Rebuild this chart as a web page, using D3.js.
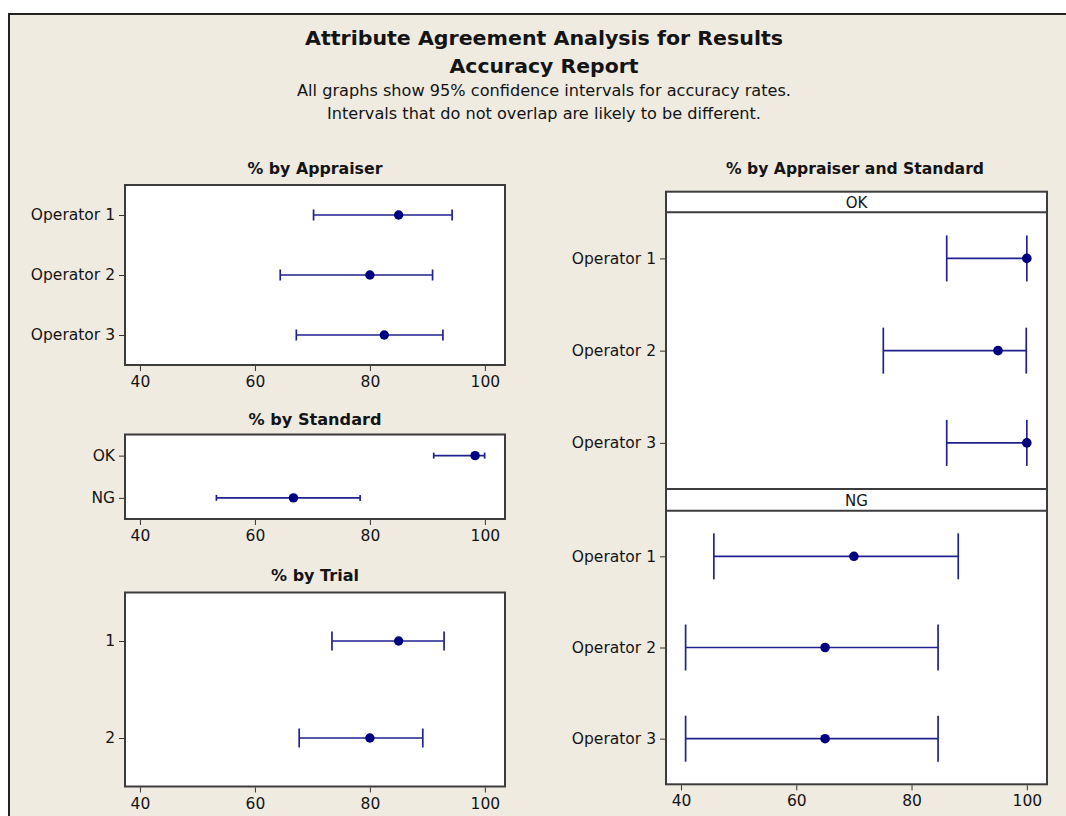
<!DOCTYPE html>
<html>
<head>
<meta charset="utf-8">
<script src="https://cdn.jsdelivr.net/npm/d3@7"></script>
<style>
  html, body { margin: 0; padding: 0; background: #ffffff; }
  svg { display: block; }
  text { font-family: "DejaVu Sans", Verdana, sans-serif; fill: #141414; }
</style>
</head>
<body>
<svg id="chart" width="1066" height="816"></svg>
<script>
// ---------------- data ----------------
const titleText = "Attribute Agreement Analysis for Results";
const subTitleText = "Accuracy Report";
const noteLines = [
  "All graphs show 95% confidence intervals for accuracy rates.",
  "Intervals that do not overlap are likely to be different."
];

const xTicks = [40, 60, 80, 100];

const appraisers = ["Operator 1", "Operator 2", "Operator 3"];
const appraiserPct = [85.0, 80.0, 82.5];
const appraiserLo  = [70.2, 64.4, 67.2];
const appraiserHi  = [94.3, 90.9, 92.7];

const standards = ["OK", "NG"];
const standardPct = [98.3, 66.7];
const standardLo  = [91.1, 53.3];
const standardHi  = [99.96, 78.3];

const trials = ["1", "2"];
const trialPct = [85.0, 80.0];
const trialLo  = [73.4, 67.7];
const trialHi  = [92.9, 89.2];

const okPct = [100, 95.0, 100];
const okLo  = [86.1, 75.1, 86.1];
const okHi  = [100, 99.9, 100];

const ngPct = [70.0, 65.0, 65.0];
const ngLo  = [45.7, 40.8, 40.8];
const ngHi  = [88.1, 84.6, 84.6];

// ---------------- drawing ----------------
const svg = d3.select("#chart");
const BEIGE = "#efebe1";
const LINE = "#22228f";
const DOT = "#000080";
const FRAME = "#3c3c3c";
const xDomain = [37.4, 103.5];

svg.append("rect").attr("x", 9).attr("y", 14).attr("width", 1100).attr("height", 850)
  .attr("fill", BEIGE).attr("stroke", "#222").attr("stroke-width", 2);

// titles
const cx = 544;
svg.append("text").attr("x", cx).attr("y", 45).attr("text-anchor", "middle")
  .attr("font-size", 19.5).attr("font-weight", "bold")
  .attr("textLength", 478).attr("lengthAdjust", "spacingAndGlyphs").text(titleText);
svg.append("text").attr("x", cx).attr("y", 73).attr("text-anchor", "middle")
  .attr("font-size", 19.5).attr("font-weight", "bold")
  .attr("textLength", 189).attr("lengthAdjust", "spacingAndGlyphs").text(subTitleText);
svg.append("text").attr("x", cx).attr("y", 95.5).attr("text-anchor", "middle")
  .attr("font-size", 15).attr("textLength", 494).attr("lengthAdjust", "spacingAndGlyphs").text(noteLines[0]);
svg.append("text").attr("x", cx).attr("y", 118.5).attr("text-anchor", "middle")
  .attr("font-size", 15).attr("textLength", 434).attr("lengthAdjust", "spacingAndGlyphs").text(noteLines[1]);

function panelTitle(x, y, txt, len) {
  svg.append("text").attr("x", x).attr("y", y).attr("text-anchor", "middle")
    .attr("font-size", 16).attr("font-weight", "bold")
    .attr("textLength", len).attr("lengthAdjust", "spacingAndGlyphs").text(txt);
}

function styleAxis(g) {
  g.select(".domain").remove();
  g.selectAll(".tick line").attr("stroke", "#333").attr("stroke-width", 1);
  g.selectAll(".tick text").attr("font-size", 15.5).attr("fill", "#141414")
    .attr("font-family", "DejaVu Sans, Verdana, sans-serif");
}

function drawIntervals(g, cats, pct, lo, hi, x, y, cap, r) {
  const rows = cats.map((c, i) => ({c, p: pct[i], lo: lo[i], hi: hi[i]}));
  const gg = g.append("g");
  gg.selectAll("line.bar").data(rows).join("line").attr("class", "bar")
    .attr("x1", d => x(d.lo)).attr("x2", d => x(d.hi))
    .attr("y1", d => y(d.c)).attr("y2", d => y(d.c))
    .attr("stroke", LINE).attr("stroke-width", 1.7);
  gg.selectAll("line.capl").data(rows).join("line").attr("class", "capl")
    .attr("x1", d => x(d.lo)).attr("x2", d => x(d.lo))
    .attr("y1", d => y(d.c) - cap).attr("y2", d => y(d.c) + cap)
    .attr("stroke", LINE).attr("stroke-width", 1.7);
  gg.selectAll("line.caph").data(rows).join("line").attr("class", "caph")
    .attr("x1", d => x(d.hi)).attr("x2", d => x(d.hi))
    .attr("y1", d => y(d.c) - cap).attr("y2", d => y(d.c) + cap)
    .attr("stroke", LINE).attr("stroke-width", 1.7);
  gg.selectAll("circle").data(rows).join("circle")
    .attr("cx", d => x(d.p)).attr("cy", d => y(d.c)).attr("r", r)
    .attr("fill", DOT);
}

function leftPanel(cats, pct, lo, hi, top, bottom, cap) {
  const x0 = 125, x1 = 505;
  const x = d3.scaleLinear().domain(xDomain).range([x0, x1]);
  const y = d3.scalePoint().domain(cats).range([top, bottom]).padding(0.5);
  svg.append("rect").attr("x", x0).attr("y", top).attr("width", x1 - x0).attr("height", bottom - top)
    .attr("fill", "#fff").attr("stroke", FRAME).attr("stroke-width", 2);
  const gx = svg.append("g").attr("transform", `translate(0,${bottom + 1})`)
    .call(d3.axisBottom(x).tickValues(xTicks).tickSize(5).tickPadding(5).tickFormat(d3.format("d")));
  styleAxis(gx);
  const gy = svg.append("g").attr("transform", `translate(${x0 - 1},0)`)
    .call(d3.axisLeft(y).tickSize(5).tickPadding(4));
  styleAxis(gy);
  drawIntervals(svg, cats, pct, lo, hi, x, y, cap, 4.7);
}

panelTitle(315, 173.5, "% by Appraiser", 135);
leftPanel(appraisers, appraiserPct, appraiserLo, appraiserHi, 185, 365, 5.5);

panelTitle(315, 425, "% by Standard", 133);
leftPanel(standards, standardPct, standardLo, standardHi, 434.5, 519, 3);

panelTitle(315, 580.5, "% by Trial", 88);
leftPanel(trials, trialPct, trialLo, trialHi, 592.5, 786.5, 9.5);

// right panel
const rx0 = 666, rx1 = 1047;
const rTop = 191.7, okStripBot = 212.3, okBot = 489, ngStripBot = 510.7, ngBot = 784.3;
const xr = d3.scaleLinear().domain(xDomain).range([rx0, rx1]);
panelTitle(855, 173.5, "% by Appraiser and Standard", 258);

svg.append("rect").attr("x", rx0).attr("y", rTop).attr("width", rx1 - rx0).attr("height", ngBot - rTop)
  .attr("fill", "#fff").attr("stroke", FRAME).attr("stroke-width", 2);
[okStripBot, okBot, ngStripBot].forEach(v => {
  svg.append("line").attr("x1", rx0).attr("x2", rx1).attr("y1", v).attr("y2", v)
    .attr("stroke", FRAME).attr("stroke-width", 2);
});
svg.append("text").attr("x", (rx0 + rx1) / 2).attr("y", 207.5).attr("text-anchor", "middle")
  .attr("font-size", 15).text(standards[0]);
svg.append("text").attr("x", (rx0 + rx1) / 2).attr("y", 505.5).attr("text-anchor", "middle")
  .attr("font-size", 15).text(standards[1]);

const yOk = d3.scalePoint().domain(appraisers).range([okStripBot, okBot]).padding(0.5);
const yNg = d3.scalePoint().domain(appraisers).range([ngStripBot, ngBot]).padding(0.5);
[yOk, yNg].forEach(y => {
  const gy = svg.append("g").attr("transform", `translate(${rx0 - 1},0)`)
    .call(d3.axisLeft(y).tickSize(5).tickPadding(4));
  styleAxis(gy);
});
const gxr = svg.append("g").attr("transform", `translate(0,${ngBot + 1})`)
  .call(d3.axisBottom(xr).tickValues(xTicks).tickSize(5).tickPadding(5).tickFormat(d3.format("d")));
styleAxis(gxr);

drawIntervals(svg, appraisers, okPct, okLo, okHi, xr, yOk, 23, 4.8);
drawIntervals(svg, appraisers, ngPct, ngLo, ngHi, xr, yNg, 23, 4.8);
</script>
</body>
</html>
